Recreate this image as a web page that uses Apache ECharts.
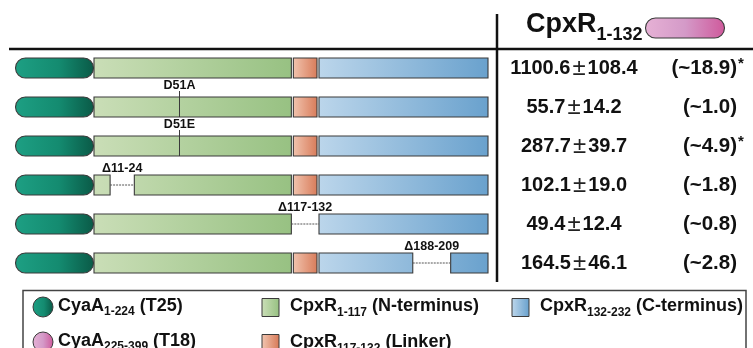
<!DOCTYPE html>
<html>
<head>
<meta charset="utf-8">
<script src="https://cdn.jsdelivr.net/npm/echarts@6/dist/echarts.min.js"></script>
<style>
  html, body { margin: 0; padding: 0; background: #fff; }
  #chart { width: 753px; height: 348px; }
</style>
</head>
<body>
<div id="chart"></div>
<script>
// ---- data -------------------------------------------------------------
// CpxR constructs fused to CyaA(T25), top to bottom
const constructs = ['CpxR', 'CpxR D51A', 'CpxR D51E', 'CpxR \u039411-24', 'CpxR \u0394117-132', 'CpxR \u0394188-209'];

// CpxR domain boundaries (residue numbers)
const domainNames = ['N-terminus', 'Linker', 'C-terminus'];
const domainStart = [1, 117, 132];
const domainEnd = [117, 132, 232];

// point mutations per construct
const mutationSite = [null, 51, 51, null, null, null];
const mutationLabel = ['', 'D51A', 'D51E', '', '', ''];

// deleted residue ranges per construct
const deletionFrom = [null, null, null, 11, 117, 188];
const deletionTo = [null, null, null, 24, 132, 209];

// interaction with T18-CpxR1-132: activity mean ± SD and fold change vs D51A
const activityMean = [1100.6, 55.7, 287.7, 102.1, 49.4, 164.5];
const activitySd = [108.4, 14.2, 39.7, 19.0, 12.4, 46.1];
const foldChange = [18.9, 1.0, 4.9, 1.8, 0.8, 2.8];
const significant = [true, false, true, false, false, false];

// ---- styling ----------------------------------------------------------
const FONT = '"Liberation Sans", Arial, Helvetica, sans-serif';
const EDGE = '#3a3a3a';
const tagStops = [['#1d9f83', 0], ['#148b70', 0.55], ['#0a5a47', 1]];
const preyStops = [['#e6b1d5', 0], ['#d49ac8', 0.5], ['#cf5a9c', 1]];
const domainStops = [
  [['#cadeb7', 0], ['#97c182', 1]],
  [['#f1c5b0', 0], ['#d87a58', 1]],
  [['#bcd6eb', 0], ['#69a1cd', 1]]
];
const BAR_H = 20;
const TAG_W = 78;
const VALUE_X = 574;      // centre of the activity column
const FOLD_RIGHT = 737;   // right edge of the fold-change column

function gradient(x0, x1, stops) {
  return new echarts.graphic.LinearGradient(x0, 0, x1, 0,
    stops.map(s => ({ color: s[0], offset: s[1] })), true);
}

const measureCtx = document.createElement('canvas').getContext('2d');
function textWidth(str, size) {
  measureCtx.font = 'bold ' + size + 'px ' + FONT;
  return measureCtx.measureText(str).width;
}

// text with a subscript part: main, sub, tail
function subscripted(x, y, main, sub, tail, size, subSize, drop) {
  const w1 = textWidth(main, size);
  const w2 = textWidth(sub, subSize);
  const base = { fill: '#111', fontWeight: 'bold', fontFamily: FONT, align: 'left', verticalAlign: 'middle' };
  const els = [
    { type: 'text', style: Object.assign({ text: main, x: x, y: y, fontSize: size }, base) },
    { type: 'text', style: Object.assign({ text: sub, x: x + w1, y: y + drop, fontSize: subSize }, base) }
  ];
  if (tail) els.push({ type: 'text', style: Object.assign({ text: tail, x: x + w1 + w2, y: y, fontSize: size }, base) });
  return els;
}

// ---- construct diagrams -------------------------------------------------
function renderConstruct(params, api) {
  const row = api.value(0);
  const px = r => api.coord([r, row])[0];
  const cy = api.coord([domainStart[0], row])[1];
  const top = cy - BAR_H / 2;
  const x0 = px(domainStart[0]);
  const children = [];

  // CyaA T25 tag
  children.push({
    type: 'rect',
    shape: { x: x0 - TAG_W - 0.5, y: top, width: TAG_W, height: BAR_H, r: BAR_H / 2 },
    style: { fill: gradient(x0 - TAG_W, x0, tagStops), stroke: EDGE, lineWidth: 1.1 }
  });

  const df = deletionFrom[row], dt = deletionTo[row];
  domainStart.forEach((s, i) => {
    const e = domainEnd[i];
    let pieces = [[s, e]];
    if (df != null && !(dt <= s || df >= e)) {
      pieces = [];
      if (df > s) pieces.push([s, df]);
      if (dt < e) pieces.push([dt, e]);
    }
    const fill = gradient(px(s), px(e), domainStops[i]);
    pieces.forEach(([a, b]) => {
      const xa = px(a) + (a === domainStart[0] ? 0 : 1);
      const xb = px(b) - 1;
      children.push({
        type: 'rect',
        shape: { x: xa, y: top, width: xb - xa, height: BAR_H },
        style: { fill: fill, stroke: EDGE, lineWidth: 1.1 }
      });
    });
  });

  // deletion connector and label
  if (df != null) {
    children.push({
      type: 'line',
      shape: { x1: px(df) - 1, y1: cy, x2: px(dt) + 1, y2: cy },
      style: { stroke: '#555', lineWidth: 1, lineDash: [2, 1] }
    });
    children.push({
      type: 'text',
      style: {
        text: '\u0394' + df + '-' + dt, x: (px(df) + px(dt)) / 2, y: cy - 16,
        fill: '#111', fontSize: 12.5, fontWeight: 'bold', fontFamily: FONT,
        align: 'center', verticalAlign: 'middle'
      }
    });
  }

  // point mutation marker and label
  if (mutationSite[row] != null) {
    const xm = Math.round(px(mutationSite[row])) + 0.5;
    children.push({
      type: 'line',
      shape: { x1: xm, y1: cy - 16, x2: xm, y2: cy + BAR_H / 2 },
      style: { stroke: EDGE, lineWidth: 1 }
    });
    children.push({
      type: 'text',
      style: {
        text: mutationLabel[row], x: xm, y: cy - 21,
        fill: '#111', fontSize: 12.5, fontWeight: 'bold', fontFamily: FONT,
        align: 'center', verticalAlign: 'middle'
      }
    });
  }
  return { type: 'group', children: children };
}

// ---- activity table -------------------------------------------------------
function renderActivity(params, api) {
  const row = api.value(0);
  const cy = api.coord([domainStart[0], row])[1];
  const children = [
    {
      type: 'text',
      style: {
        text: '{v|' + activityMean[row].toFixed(1) + '}{pm|\u00b1}{v|' + activitySd[row].toFixed(1) + '}',
        x: VALUE_X, y: cy, align: 'center', verticalAlign: 'middle',
        rich: {
          v: { fontSize: 20, fontWeight: 'bold', fontFamily: FONT, fill: '#111' },
          pm: { fontSize: 24, fontWeight: 'normal', fontFamily: FONT, fill: '#222', padding: [0, 2, 0, 2] }
        }
      }
    },
    {
      type: 'text',
      style: {
        text: '(~' + foldChange[row].toFixed(1) + ')', x: FOLD_RIGHT, y: cy,
        fontSize: 20.5, fontWeight: 'bold', fontFamily: FONT, fill: '#111',
        align: 'right', verticalAlign: 'middle'
      }
    }
  ];
  if (significant[row]) {
    children.push({
      type: 'text',
      style: {
        text: '*', x: FOLD_RIGHT + 1, y: cy - 4,
        fontSize: 15, fontWeight: 'bold', fontFamily: FONT, fill: '#111',
        align: 'left', verticalAlign: 'middle'
      }
    });
  }
  return { type: 'group', children: children };
}

// ---- header and legend ------------------------------------------------------
const legendItems = [
  { shape: 'circle', stops: tagStops, main: 'CyaA', sub: '1-224', tail: ' (T25)', x: 43, y: 307 },
  { shape: 'circle', stops: preyStops, main: 'CyaA', sub: '225-399', tail: ' (T18)', x: 43, y: 342 },
  { shape: 'square', stops: domainStops[0], main: 'CpxR', sub: '1-117', tail: ' (' + domainNames[0] + ')', x: 270.5, y: 307.5 },
  { shape: 'square', stops: domainStops[1], main: 'CpxR', sub: '117-132', tail: ' (' + domainNames[1] + ')', x: 270.5, y: 343.5 },
  { shape: 'square', stops: domainStops[2], main: 'CpxR', sub: '132-232', tail: ' (' + domainNames[2] + ')', x: 520.5, y: 307.5 }
];

const graphics = [
  { type: 'line', shape: { x1: 9, y1: 49, x2: 753, y2: 49 }, style: { stroke: '#111', lineWidth: 2.5 } },
  { type: 'line', shape: { x1: 497, y1: 14, x2: 497, y2: 282 }, style: { stroke: '#111', lineWidth: 2.5 } },
  { type: 'rect', shape: { x: 645.5, y: 18, width: 79, height: 20, r: 10 },
    style: { fill: gradient(645.5, 724.5, preyStops), stroke: EDGE, lineWidth: 1.1 } },
  { type: 'rect', shape: { x: 23, y: 290.5, width: 723, height: 80 },
    style: { fill: 'none', stroke: '#444', lineWidth: 1.5 } }
].concat(subscripted(526, 25, 'CpxR', '1-132', '', 27, 18, 10));

legendItems.forEach(it => {
  if (it.shape === 'circle') {
    graphics.push({ type: 'circle', shape: { cx: it.x, cy: it.y, r: 10 },
      style: { fill: gradient(it.x - 10, it.x + 10, it.stops), stroke: EDGE, lineWidth: 1 } });
  } else {
    graphics.push({ type: 'rect', shape: { x: it.x - 8.5, y: it.y - 9, width: 17, height: 18 },
      style: { fill: gradient(it.x - 8.5, it.x + 8.5, it.stops), stroke: EDGE, lineWidth: 1 } });
  }
  const tx = it.shape === 'circle' ? it.x + 15 : it.x + 19.5;
  subscripted(tx, it.y - 1, it.main, it.sub, it.tail, 18, 12, 6).forEach(e => graphics.push(e));
});

// ---- chart ------------------------------------------------------------------
const chart = echarts.init(document.getElementById('chart'), null, { renderer: 'canvas' });
const rows = constructs.map((c, i) => [i]);
chart.setOption({
  animation: false,
  backgroundColor: '#fff',
  grid: { left: 94, width: 395, top: 48.5, height: 234 },
  xAxis: { type: 'value', min: domainStart[0], max: domainEnd[domainEnd.length - 1], show: false },
  yAxis: { type: 'category', data: constructs, inverse: true, show: false },
  graphic: graphics,
  series: [
    { type: 'custom', name: 'constructs', renderItem: renderConstruct, data: rows, encode: { y: 0 }, silent: true },
    { type: 'custom', name: 'activity', renderItem: renderActivity, data: rows, encode: { y: 0 }, silent: true }
  ]
});
</script>
</body>
</html>
